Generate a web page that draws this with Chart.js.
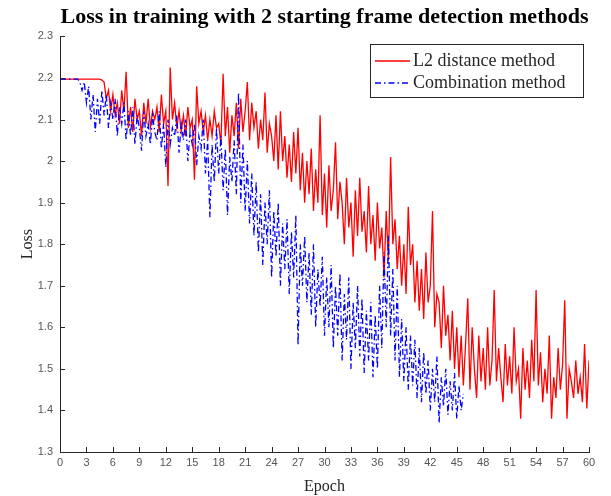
<!DOCTYPE html>
<html>
<head>
<meta charset="utf-8">
<script src="https://cdn.jsdelivr.net/npm/chart.js@4.4.1/dist/chart.umd.min.js"></script>
<style>
  html, body { margin: 0; padding: 0; background: #fff; }
  #wrap { width: 611px; height: 496px; }
</style>
</head>
<body>
<div id="wrap"><canvas id="loss-chart" width="611" height="496"></canvas></div>
<script>
// values, one every quarter epoch
const epochStep = 0.25;

const l2Loss = [
  2.197, 2.197, 2.197, 2.197,  2.197, 2.197, 2.197, 2.197,  2.197, 2.197, 2.197, 2.197,
  2.197, 2.197, 2.197, 2.197,  2.197, 2.197, 2.197, 2.195,  2.19, 2.15, 2.17, 2.12,
  2.16, 2.11, 2.14, 2.09,      2.17, 2.12, 2.215, 2.08,     2.13, 2.07, 2.15, 2.10,
  2.12, 2.06, 2.14, 2.09,      2.15, 2.08, 2.12, 2.10,      2.13, 2.07, 2.16, 2.09,
  2.12, 1.94, 2.225, 2.10,     2.14, 2.08, 2.12, 2.07,      2.11, 2.06, 2.13, 2.08,
  2.10, 1.955, 2.18, 2.09,     2.12, 2.07, 2.11, 2.05,      2.10, 2.06, 2.12, 2.08,
  2.09, 2.04, 2.21, 2.06,      2.13, 2.02, 2.11, 2.06,      2.14, 2.03, 2.15, 2.07,
  2.12, 2.19, 2.05, 2.14,      2.08, 2.12, 2.03, 2.10,      2.05, 2.165, 2.02, 2.09,
  2.06, 2.00, 2.11, 1.98,      2.12, 2.00, 2.06, 1.96,      2.04, 1.95, 2.07, 1.97,
  2.08, 1.93, 2.02, 1.90,      2.00, 1.92, 2.03, 1.88,      1.98, 1.90, 2.11, 1.87,
  1.97, 1.84, 1.99, 1.88,      1.93, 2.045, 1.86, 1.95,     1.90, 1.80, 1.96, 1.84,
  1.90, 1.77, 1.93, 1.82,      1.96, 1.83, 1.88, 1.78,      1.94, 1.80, 1.87, 1.76,
  1.90, 1.79, 1.84, 1.72,      1.88, 1.76, 2.01, 1.80,      1.86, 1.74, 1.82, 1.70,
  1.80, 1.68, 1.89, 1.75,      1.80, 1.66, 1.76, 1.64,      1.74, 1.62, 1.78, 1.66,
  1.70, 1.88, 1.60, 1.68,      1.66, 1.55, 1.70, 1.58,      1.63, 1.52, 1.64, 1.50,
  1.60, 1.48, 1.58, 1.46,      1.56, 1.67, 1.45, 1.60,      1.50, 1.43, 1.58, 1.47,
  1.55, 1.45, 1.60, 1.46,      1.52, 1.69, 1.47, 1.55,      1.48, 1.42, 1.56, 1.46,
  1.53, 1.44, 1.60, 1.47,      1.50, 1.38, 1.55, 1.45,      1.52, 1.43, 1.57, 1.47,
  1.69, 1.46, 1.54, 1.42,      1.50, 1.44, 1.58, 1.38,      1.48, 1.43, 1.55, 1.45,
  1.51, 1.665, 1.38, 1.50,     1.47, 1.43, 1.52, 1.44,      1.48, 1.42, 1.56, 1.405,
  1.52
];

const comboLoss = [
  2.197, 2.197, 2.197, 2.197,  2.197, 2.197, 2.197, 2.197,  2.197, 2.19, 2.17, 2.19,
  2.14, 2.18, 2.10, 2.16,      2.07, 2.15, 2.09, 2.17,      2.11, 2.16, 2.08, 2.14,
  2.10, 2.15, 2.06, 2.13,      2.09, 2.14, 2.05, 2.12,      2.06, 2.13, 2.04, 2.11,
  2.08, 2.025, 2.12, 2.06,     2.09, 2.04, 2.11, 2.07,      2.05, 2.12, 2.03, 2.09,
  1.985, 2.10, 2.04, 2.08,     2.06, 2.11, 2.02, 2.09,      2.05, 2.10, 2.00, 2.07,
  2.04, 2.09, 1.99, 2.06,      2.03, 2.10, 1.97, 2.05,      1.865, 2.04, 1.95, 2.08,
  1.97, 2.06, 1.93, 2.03,      1.87, 2.01, 1.95, 2.05,      1.92, 2.165, 1.90, 2.04,
  1.88, 2.00, 1.85, 1.97,      1.82, 1.95, 1.78, 1.92,      1.75, 1.90, 1.80, 1.93,
  1.72, 1.88, 1.77, 1.90,      1.70, 1.85, 1.74, 1.86,      1.68, 1.83, 1.72, 1.87,
  1.557, 1.80, 1.70, 1.82,     1.66, 1.78, 1.63, 1.80,      1.60, 1.74, 1.65, 1.77,
  1.58, 1.72, 1.60, 1.75,      1.55, 1.70, 1.58, 1.73,      1.52, 1.68, 1.57, 1.72,
  1.50, 1.66, 1.55, 1.70,      1.53, 1.67, 1.49, 1.64,      1.52, 1.66, 1.48, 1.63,
  1.50, 1.70, 1.55, 1.78,      1.60, 1.82, 1.58, 1.74,      1.52, 1.70, 1.48, 1.62,
  1.47, 1.60, 1.45, 1.58,      1.46, 1.57, 1.43, 1.55,      1.42, 1.54, 1.44, 1.52,
  1.40, 1.50, 1.42, 1.53,      1.37, 1.48, 1.41, 1.50,      1.39, 1.47, 1.40, 1.49,
  1.38, 1.46, 1.40, 1.44
];

const seriesNames = ['L2 distance method', 'Combination method'];
const seriesColors = ['#ff0000', '#0000ff'];
const seriesDash = [[], [6, 3, 1.5, 3]];
const epochTicks = { min: 0, max: 60, step: 3 };
const lossTicks = { min: 1.3, max: 2.3, step: 0.1 };

const toPoints = arr => arr.map((v, i) => ({ x: i * epochStep, y: v }));

// matlab style: tick marks pointing into the plot
const innerTicks = {
  id: 'innerTicks',
  afterDatasetsDraw(chart) {
    const { ctx, chartArea, scales } = chart;
    ctx.save();
    ctx.strokeStyle = '#262626';
    ctx.lineWidth = 1;
    ctx.beginPath();
    scales.x.ticks.forEach((t, i) => {
      const px = Math.round(scales.x.getPixelForTick(i)) + 0.5;
      ctx.moveTo(px, chartArea.bottom);
      ctx.lineTo(px, chartArea.bottom - 5);
    });
    scales.y.ticks.forEach((t, i) => {
      const py = Math.round(scales.y.getPixelForTick(i)) + 0.5;
      ctx.moveTo(chartArea.left, py);
      ctx.lineTo(chartArea.left + 5, py);
    });
    ctx.stroke();
    ctx.restore();
  }
};

// legend box in the upper right corner
const boxLegend = {
  id: 'boxLegend',
  afterDraw(chart) {
    const { ctx } = chart;
    const x = 370, y = 44, w = 213, h = 53;
    ctx.save();
    ctx.fillStyle = '#fff';
    ctx.fillRect(x, y, w, h);
    ctx.strokeStyle = '#262626';
    ctx.lineWidth = 1;
    ctx.strokeRect(x + 0.5, y + 0.5, w, h);
    ctx.font = '18px "Liberation Serif", "Times New Roman", serif';
    ctx.textBaseline = 'middle';
    seriesNames.forEach((name, i) => {
      const ly = y + 17 + i * 22;
      ctx.strokeStyle = seriesColors[i];
      ctx.lineWidth = 1.3;
      ctx.setLineDash(seriesDash[i]);
      ctx.beginPath();
      ctx.moveTo(x + 5, ly);
      ctx.lineTo(x + 40, ly);
      ctx.stroke();
      ctx.setLineDash([]);
      ctx.fillStyle = '#262626';
      ctx.fillText(name, x + 43, ly);
    });
    ctx.restore();
  }
};

new Chart(document.getElementById('loss-chart'), {
  type: 'line',
  data: {
    datasets: [
      {
        label: seriesNames[0],
        data: toPoints(l2Loss),
        borderColor: seriesColors[0],
        borderWidth: 1.3,
        borderDash: seriesDash[0],
        pointRadius: 0,
        tension: 0,
        order: 1
      },
      {
        label: seriesNames[1],
        data: toPoints(comboLoss),
        borderColor: seriesColors[1],
        borderWidth: 1.3,
        borderDash: seriesDash[1],
        pointRadius: 0,
        tension: 0,
        order: 0
      }
    ]
  },
  options: {
    responsive: false,
    animation: false,
    layout: { padding: { left: 0, right: 22, top: 0, bottom: 0 } },
    plugins: {
      legend: { display: false },
      tooltip: { enabled: false },
      title: {
        display: true,
        fullSize: false,
        text: 'Loss in training with 2 starting frame detection methods',
        color: '#000',
        font: { family: '"Liberation Serif", "Times New Roman", serif', size: 22, weight: 'bold' },
        padding: { top: 4, bottom: 6 }
      }
    },
    scales: {
      x: {
        type: 'linear',
        min: epochTicks.min,
        max: epochTicks.max,
        afterFit: s => { s.height = 44; },
        ticks: {
          stepSize: epochTicks.step,
          maxRotation: 0,
          autoSkip: false,
          padding: 4,
          color: '#555',
          font: { family: '"Liberation Sans", Arial, sans-serif', size: 11 }
        },
        grid: { drawOnChartArea: false, drawTicks: false },
        border: { color: '#262626' },
        title: {
          display: true,
          text: 'Epoch',
          color: '#262626',
          font: { family: '"Liberation Serif", "Times New Roman", serif', size: 16 },
          padding: { top: 0, bottom: 0 }
        }
      },
      y: {
        min: lossTicks.min,
        max: lossTicks.max,
        afterFit: s => { s.width = 60; },
        ticks: {
          stepSize: lossTicks.step,
          padding: 7,
          color: '#555',
          font: { family: '"Liberation Sans", Arial, sans-serif', size: 11 },
          callback: v => String(Number(v.toFixed(1)))
        },
        grid: { drawOnChartArea: false, drawTicks: false },
        border: { color: '#262626' },
        title: {
          display: true,
          text: 'Loss',
          color: '#262626',
          font: { family: '"Liberation Serif", "Times New Roman", serif', size: 16 },
          padding: { top: 18, bottom: 0 }
        }
      }
    }
  },
  plugins: [innerTicks, boxLegend]
});
</script>
</body>
</html>
